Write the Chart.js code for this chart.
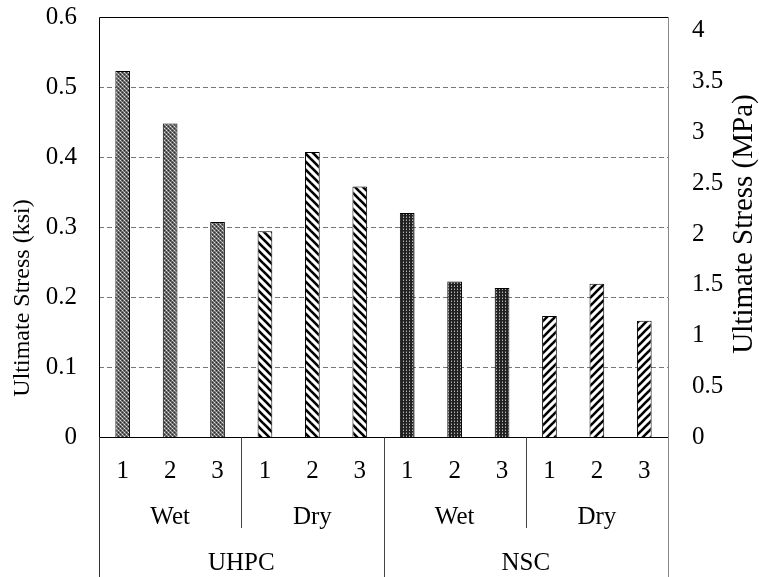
<!DOCTYPE html>
<html><head><meta charset="utf-8">
<script src="https://cdn.jsdelivr.net/npm/chart.js@4/dist/chart.umd.min.js"></script>
<style>html,body{margin:0;padding:0;background:#fff;}#wrap{width:759px;height:577px;}</style>
</head><body><div id="wrap"><canvas id="c" width="759" height="577"></canvas></div>
<script>
// ---- data ----
const specimenLabels = ['1','2','3','1','2','3','1','2','3','1','2','3'];
const conditionLabels = ['Wet','Dry','Wet','Dry'];
const materialLabels = ['UHPC','NSC'];
const stressKsi = [0.523,0.448,0.307,0.294,0.407,0.358,0.320,0.222,0.213,0.173,0.219,0.166];
const leftTicks = [0,0.1,0.2,0.3,0.4,0.5,0.6];
const rightTicks = [0,0.5,1,1.5,2,2.5,3,3.5,4];
const KSI_TO_MPA = 6.894757;
const leftTitle = 'Ultimate Stress (ksi)';
const rightTitle = 'Ultimate Stress (MPa)';

const FONT = '"Liberation Serif","Times New Roman",serif';

function tile(w,h,draw){const c=document.createElement('canvas');c.width=w;c.height=h;const x=c.getContext('2d');draw(x);return document.getElementById('c').getContext('2d').createPattern(c,'repeat');}
const patUhpcWet = tile(4,4,g=>{g.fillStyle='#666';g.fillRect(0,0,4,4);g.fillStyle='#e0e0e0';g.fillRect(0,0,1,1);g.fillRect(2,2,1,1);g.fillStyle='#2e2e2e';g.fillRect(0,2,1,1);g.fillRect(2,0,1,1);g.fillStyle='#a0a0a0';g.fillRect(1,1,1,1);g.fillRect(3,3,1,1);});
const patNscWet = tile(3,3,g=>{g.fillStyle='#222';g.fillRect(0,0,3,3);g.fillStyle='#b8b8b8';g.fillRect(1,1,1,1);g.fillStyle='#666';g.fillRect(1,0,1,1);});
function stripes(dir){return tile(8,8,g=>{g.fillStyle='#fff';g.fillRect(0,0,8,8);g.strokeStyle='#000';g.lineWidth=2.6;for(let k=-1;k<=1;k++){g.beginPath();if(dir>0){g.moveTo(k*8-2,-2);g.lineTo(k*8+10,10);}else{g.moveTo(k*8-2,10);g.lineTo(k*8+10,-2);}g.stroke();}});}
const patUhpcDry = stripes(1);
const patNscDry = stripes(-1);
const patterns = [patUhpcWet,patUhpcDry,patNscWet,patNscDry];
const barFills = stressKsi.map((v,i)=>patterns[Math.floor(i/3)]);

const framePlugin = {
  id:'frame',
  beforeDatasetsDraw(chart){
    const {ctx, chartArea:a, scales:{y}} = chart;
    ctx.save();
    ctx.strokeStyle='#777';ctx.lineWidth=1;ctx.setLineDash([5,3]);
    leftTicks.forEach(v=>{ if(v<=leftTicks[0]||v>=leftTicks[leftTicks.length-1]) return;
      const py=Math.round(y.getPixelForValue(v))+0.5;
      ctx.beginPath();ctx.moveTo(a.left,py);ctx.lineTo(a.right,py);ctx.stroke();});
    ctx.restore();
  },
  afterDraw(chart){
    const {ctx, chartArea:a, scales:{x}} = chart;
    const H = chart.height;
    ctx.save();
    ctx.setLineDash([]);ctx.lineWidth=1;
    const L=Math.round(a.left)+0.5, R=Math.round(a.right)+0.5, T=Math.round(a.top)+0.5, B=Math.round(a.bottom)+0.5;
    ctx.strokeStyle='#000';
    ctx.beginPath();ctx.moveTo(L,B);ctx.lineTo(L,T);ctx.lineTo(R,T);ctx.stroke();
    ctx.beginPath();ctx.moveTo(L,B);ctx.lineTo(R,B);ctx.stroke();
    ctx.strokeStyle='#888';
    ctx.beginPath();ctx.moveTo(R,T);ctx.lineTo(R,H);ctx.stroke();
    ctx.strokeStyle='#333';
    ctx.beginPath();ctx.moveTo(L,B);ctx.lineTo(L,H);ctx.stroke();
    const n = specimenLabels.length;
    const bound = k => (x.getPixelForValue(k-1)+x.getPixelForValue(k))/2;
    const groupSize = n/conditionLabels.length;
    const matSize = n/materialLabels.length;
    for(let k=groupSize;k<n;k+=groupSize){
      const px=Math.round(bound(k))+0.5;
      const full = (k%matSize===0);
      ctx.strokeStyle='#444';
      ctx.beginPath();ctx.moveTo(px,B);ctx.lineTo(px,full?H:528);ctx.stroke();
    }
    ctx.fillStyle='#000';ctx.font='25px '+FONT;ctx.textAlign='center';ctx.textBaseline='middle';
    conditionLabels.forEach((t,i)=>{
      const cx=(x.getPixelForValue(i*groupSize)+x.getPixelForValue(i*groupSize+groupSize-1))/2;
      ctx.fillText(t,cx,517);});
    materialLabels.forEach((t,i)=>{
      const cx=(x.getPixelForValue(i*matSize)+x.getPixelForValue(i*matSize+matSize-1))/2;
      ctx.fillText(t,cx,563);});
    ctx.font='24px '+FONT;
    ctx.save();ctx.translate(23,298);ctx.rotate(-Math.PI/2);ctx.fillText(leftTitle,0,0);ctx.restore();
    ctx.font='29px '+FONT;
    ctx.save();ctx.translate(744,224);ctx.rotate(-Math.PI/2);ctx.fillText(rightTitle,0,0);ctx.restore();
    ctx.restore();
  }
};

function noPad(s){s.paddingTop=0;s.paddingBottom=0;}
new Chart(document.getElementById('c'),{
  type:'bar',
  data:{labels:specimenLabels,datasets:[{data:stressKsi,backgroundColor:barFills,borderColor:'#000',borderWidth:1,barPercentage:1,categoryPercentage:0.31,yAxisID:'y'}]},
  options:{
    responsive:false,animation:false,
    layout:{padding:{top:17,left:0,right:0,bottom:0}},
    plugins:{legend:{display:false},tooltip:{enabled:false},title:{display:false}},
    scales:{
      x:{type:'category',offset:true,grid:{display:false,drawTicks:false},border:{display:false},
        ticks:{color:'#000',font:{family:FONT,size:25},padding:19,maxRotation:0,autoSkip:false},
        afterFit(s){s.height=140;s.paddingLeft=0;s.paddingRight=0;}},
      y:{position:'left',min:0,max:0.6,grid:{display:false,drawTicks:false},border:{display:false},
        afterBuildTicks(s){s.ticks=leftTicks.map(v=>({value:v}));},
        ticks:{color:'#000',font:{family:FONT,size:25},padding:22,callback:v=>String(v)},
        afterFit(s){s.width=99;noPad(s);}},
      y2:{position:'right',min:0,max:0.6*KSI_TO_MPA,grid:{display:false,drawTicks:false},border:{display:false},
        afterBuildTicks(s){s.ticks=rightTicks.map(v=>({value:v}));},
        ticks:{color:'#000',font:{family:FONT,size:25},padding:24,callback:v=>String(v)},
        afterFit(s){s.width=91;noPad(s);}}
    }
  },
  plugins:[framePlugin]
});
</script></body></html>
